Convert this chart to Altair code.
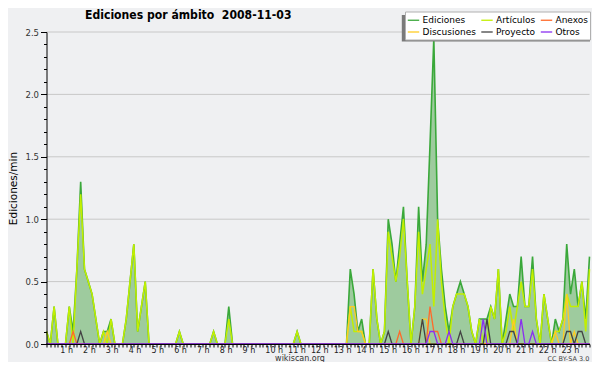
import altair as alt
import pandas as pd

# ---- data (10-minute slots, 144 per day; values in edits/min) ----
SERIES = ["Ediciones", "Artículos", "Anexos", "Discusiones", "Proyecto", "Otros"]
COLORS = ["#3aa83a", "#c2ef00", "#ff6a2a", "#ffcc22", "#444444", "#8a2ff0"]

ediciones = [
    0.1, 0, 0.3, 0, 0, 0,          # 0 h
    0.3, 0.1, 0.6, 1.3, 0.6, 0.5,  # 1 h
    0.4, 0.2, 0, 0.1, 0.1, 0.2,    # 2 h
    0, 0, 0, 0.2, 0.5, 0.8,        # 3 h
    0.1, 0.3, 0.5, 0, 0, 0,        # 4 h
    0, 0, 0, 0, 0, 0.1,            # 5 h
    0, 0, 0, 0, 0, 0,              # 6 h
    0, 0, 0.1, 0, 0, 0,            # 7 h
    0.3, 0, 0, 0, 0, 0,            # 8 h
    0, 0, 0, 0, 0, 0,              # 9 h
    0, 0, 0, 0, 0, 0,              # 10 h
    0.1, 0, 0, 0, 0, 0,            # 11 h
    0, 0, 0, 0, 0, 0,              # 12 h
    0, 0, 0.6, 0.4, 0.1, 0.2,      # 13 h
    0, 0, 0.6, 0.2, 0, 0.1,        # 14 h
    1.0, 0.8, 0.5, 0.8, 1.1, 0.5,  # 15 h
    0, 0.3, 1.1, 0.5, 0.8, 1.6,    # 16 h
    2.45, 1.0, 0.6, 0.3, 0.1, 0.3, # 17 h
    0.4, 0.5, 0.4, 0.3, 0.1, 0,    # 18 h
    0.2, 0.2, 0.2, 0.3, 0.2, 0.6,  # 19 h
    0, 0.2, 0.4, 0.3, 0.3, 0.7,    # 20 h
    0.3, 0.3, 0.7, 0.2, 0, 0.4,    # 21 h
    0.2, 0, 0.2, 0.1, 0.2, 0.8,    # 22 h
    0.4, 0.6, 0.3, 0.5, 0.2, 0.7,  # 23 h
]

articulos = [
    0.1, 0, 0.3, 0, 0, 0,
    0.3, 0, 0.6, 1.2, 0.6, 0.5,
    0.4, 0.2, 0, 0.1, 0, 0.2,
    0, 0, 0, 0.2, 0.5, 0.8,
    0.1, 0.3, 0.5, 0, 0, 0,
    0, 0, 0, 0, 0, 0.1,
    0, 0, 0, 0, 0, 0,
    0, 0, 0.1, 0, 0, 0,
    0.2, 0, 0, 0, 0, 0,
    0, 0, 0, 0, 0, 0,
    0, 0, 0, 0, 0, 0,
    0.1, 0, 0, 0, 0, 0,
    0, 0, 0, 0, 0, 0,
    0, 0, 0.3, 0.1, 0.1, 0.1,
    0, 0, 0.6, 0.2, 0, 0.1,
    0.9, 0.7, 0.5, 0.7, 1.0, 0.5,
    0, 0.3, 0.9, 0.4, 0.6, 0.8,
    0.3, 1.0, 0.5, 0.2, 0, 0.3,
    0.4, 0.4, 0.4, 0.3, 0.1, 0,
    0.2, 0, 0, 0.3, 0.2, 0.6,
    0, 0.1, 0.3, 0.1, 0.3, 0.5,
    0.3, 0.3, 0.6, 0.2, 0, 0.4,
    0.2, 0, 0.1, 0.1, 0.2, 0.4,
    0.3, 0.3, 0.3, 0.5, 0.1, 0.6,
]

# sparse series: (slot, value)
anexos_slots = [7, 93, 101, 102, 103]
anexos_vals = [0.1, 0.1, 0.3, 0.1, 0.1]
discusiones_slots = [16, 80, 81, 82, 83, 99, 100, 123, 134, 137, 139]
discusiones_vals = [0.1, 0.3, 0.3, 0.1, 0.1, 0.2, 0.2, 0.2, 0.1, 0.4, 0.1]
proyecto_slots = [9, 90, 99, 109, 116, 122, 123, 137, 138, 140, 141]
proyecto_vals = [0.1, 0.1, 0.2, 0.1, 0.2, 0.1, 0.1, 0.1, 0.1, 0.1, 0.1]
otros_slots = [101, 102, 106, 115, 125, 128]
otros_vals = [0.1, 0.1, 0.1, 0.2, 0.2, 0.1]

GRID_VALUES = [0.5, 1.0, 1.5, 2.0, 2.5]
Y_TICKS = [round(k * 0.1, 1) for k in range(26)]
N = len(ediciones)

TITLE = "Ediciones por ámbito\u00a0\u00a02008-11-03"
Y_TITLE = "Ediciones/min"
CREDIT = "wikiscan.org"
LICENSE = "CC BY-SA 3.0"


def expand(slots, vals):
    arr = [0.0] * N
    for s, v in zip(slots, vals):
        arr[s] = v
    return arr


series_values = {
    "Ediciones": ediciones,
    "Artículos": articulos,
    "Anexos": expand(anexos_slots, anexos_vals),
    "Discusiones": expand(discusiones_slots, discusiones_vals),
    "Proyecto": expand(proyecto_slots, proyecto_vals),
    "Otros": expand(otros_slots, otros_vals),
}
rows = []
for name in SERIES:
    for i, v in enumerate(series_values[name]):
        rows.append({"slot": i, "serie": name, "v": v})
df = pd.DataFrame(rows)

BG = "#eff0f2"
FONT = "DejaVu Sans"

xscale = alt.Scale(domain=[0, N - 1], nice=False, zero=False)
yscale = alt.Scale(domain=[0, 2.5], nice=False, zero=True)

xaxis = alt.Axis(
    values=list(range(N)),
    labelExpr="datum.value % 6 == 0 && datum.value > 0 ? (datum.value / 6) + ' h' : ''",
    tickSize=3, grid=False, domainColor="#000", tickColor="#000", domainWidth=1,
    labelFont=FONT, labelFontSize=8, labelColor="#222", labelAlign="left",
    labelOffset=-9.5, labelPadding=-0.5, labelBaseline="top", labelOverlap=False,
    labelFlush=False, title=None, zindex=1,
)
yaxis = alt.Axis(
    values=Y_TICKS,
    labelExpr="round(datum.value*10) % 5 == 0 ? format(datum.value, '.1f') : ''",
    tickSize={"condition": {"test": "round(datum.value*10) % 5 == 0", "value": 6}, "value": 3},
    grid=False, domainColor="#000", tickColor="#000", domainWidth=1,
    labelFont=FONT, labelFontSize=8.5, labelColor="#333", labelPadding=2,
    labelOverlap=False, labelFlush=False, title=None, zindex=1,
)

X = alt.X("slot:Q", scale=xscale, axis=xaxis)

legend = alt.Legend(
    title=None, orient="none", legendX=358.5, legendY=-20.5, columns=3,
    direction="horizontal",
    fillColor="#ffffff", strokeColor="#b0b0b0", padding=2, cornerRadius=0,
    symbolType="stroke", symbolSize=130, symbolStrokeWidth=1.3, symbolOpacity=1,
    labelFont=FONT, labelFontSize=9, labelColor="#000", labelOffset=2.5,
    columnPadding=2.5, rowPadding=0, labelLimit=200,
)
color = alt.Color("serie:N", scale=alt.Scale(domain=SERIES, range=COLORS), legend=legend)

base = alt.Chart(df)

grid = alt.Chart(pd.DataFrame({"g": GRID_VALUES})).mark_rule(color="#c8c8c8", strokeWidth=1).encode(
    y=alt.Y("g:Q", scale=yscale, axis=yaxis)
)

area = base.transform_filter(alt.datum.serie == "Ediciones").mark_area(
    color="#9ecb9e", opacity=1
).encode(x=X, y=alt.Y("v:Q", scale=yscale, axis=yaxis))

widths = {"Ediciones": 1.6, "Artículos": 1.5, "Anexos": 1.3, "Discusiones": 1.3, "Proyecto": 1.3, "Otros": 1.3}
draw_order = ["Ediciones", "Artículos", "Discusiones", "Anexos", "Proyecto", "Otros"]
lines = [
    base.transform_filter(alt.datum.serie == name).mark_line(strokeWidth=widths[name]).encode(
        x=X, y=alt.Y("v:Q", scale=yscale, axis=yaxis), color=color
    )
    for name in draw_order
]

one = pd.DataFrame({"a": [0]})
shadow = alt.Chart(one).mark_rect(color="#7a7a7a").encode(
    x=alt.value(355.3), x2=alt.value(543.5), y=alt.value(-17), y2=alt.value(9.5)
)
title = alt.Chart(one).mark_text(
    text=TITLE, font="DejaVu Sans Condensed", fontSize=12.1, fontWeight="bold",
    color="#000", align="left", baseline="alphabetic"
).encode(x=alt.value(38.5), y=alt.value(-12.7))
ytitle = alt.Chart(one).mark_text(
    text=Y_TITLE, font=FONT, fontSize=10.5, color="#000", align="center",
    baseline="middle", angle=270
).encode(x=alt.value(-32.5), y=alt.value(156.5))
credit = alt.Chart(one).mark_text(
    text=CREDIT, font=FONT, fontSize=8, color="#333", align="center", baseline="middle"
).encode(x=alt.value(253.5), y=alt.value(326.8))
license_ = alt.Chart(one).mark_text(
    text=LICENSE, font=FONT, fontSize=6.5, color="#444", align="right", baseline="middle"
).encode(x=alt.value(542.8), y=alt.value(327))

chart = alt.layer(grid, area, *lines, shadow, title, ytitle, credit, license_).properties(
    width=543, height=312, background=BG,
    padding={"left": 38.5, "top": 24, "right": 2.5, "bottom": 18},
    autosize=alt.AutoSizeParams(type="none"),
).configure_view(strokeOpacity=0, fill=BG)

chart.save("out.html", embed_options={"renderer": "svg", "actions": False})
